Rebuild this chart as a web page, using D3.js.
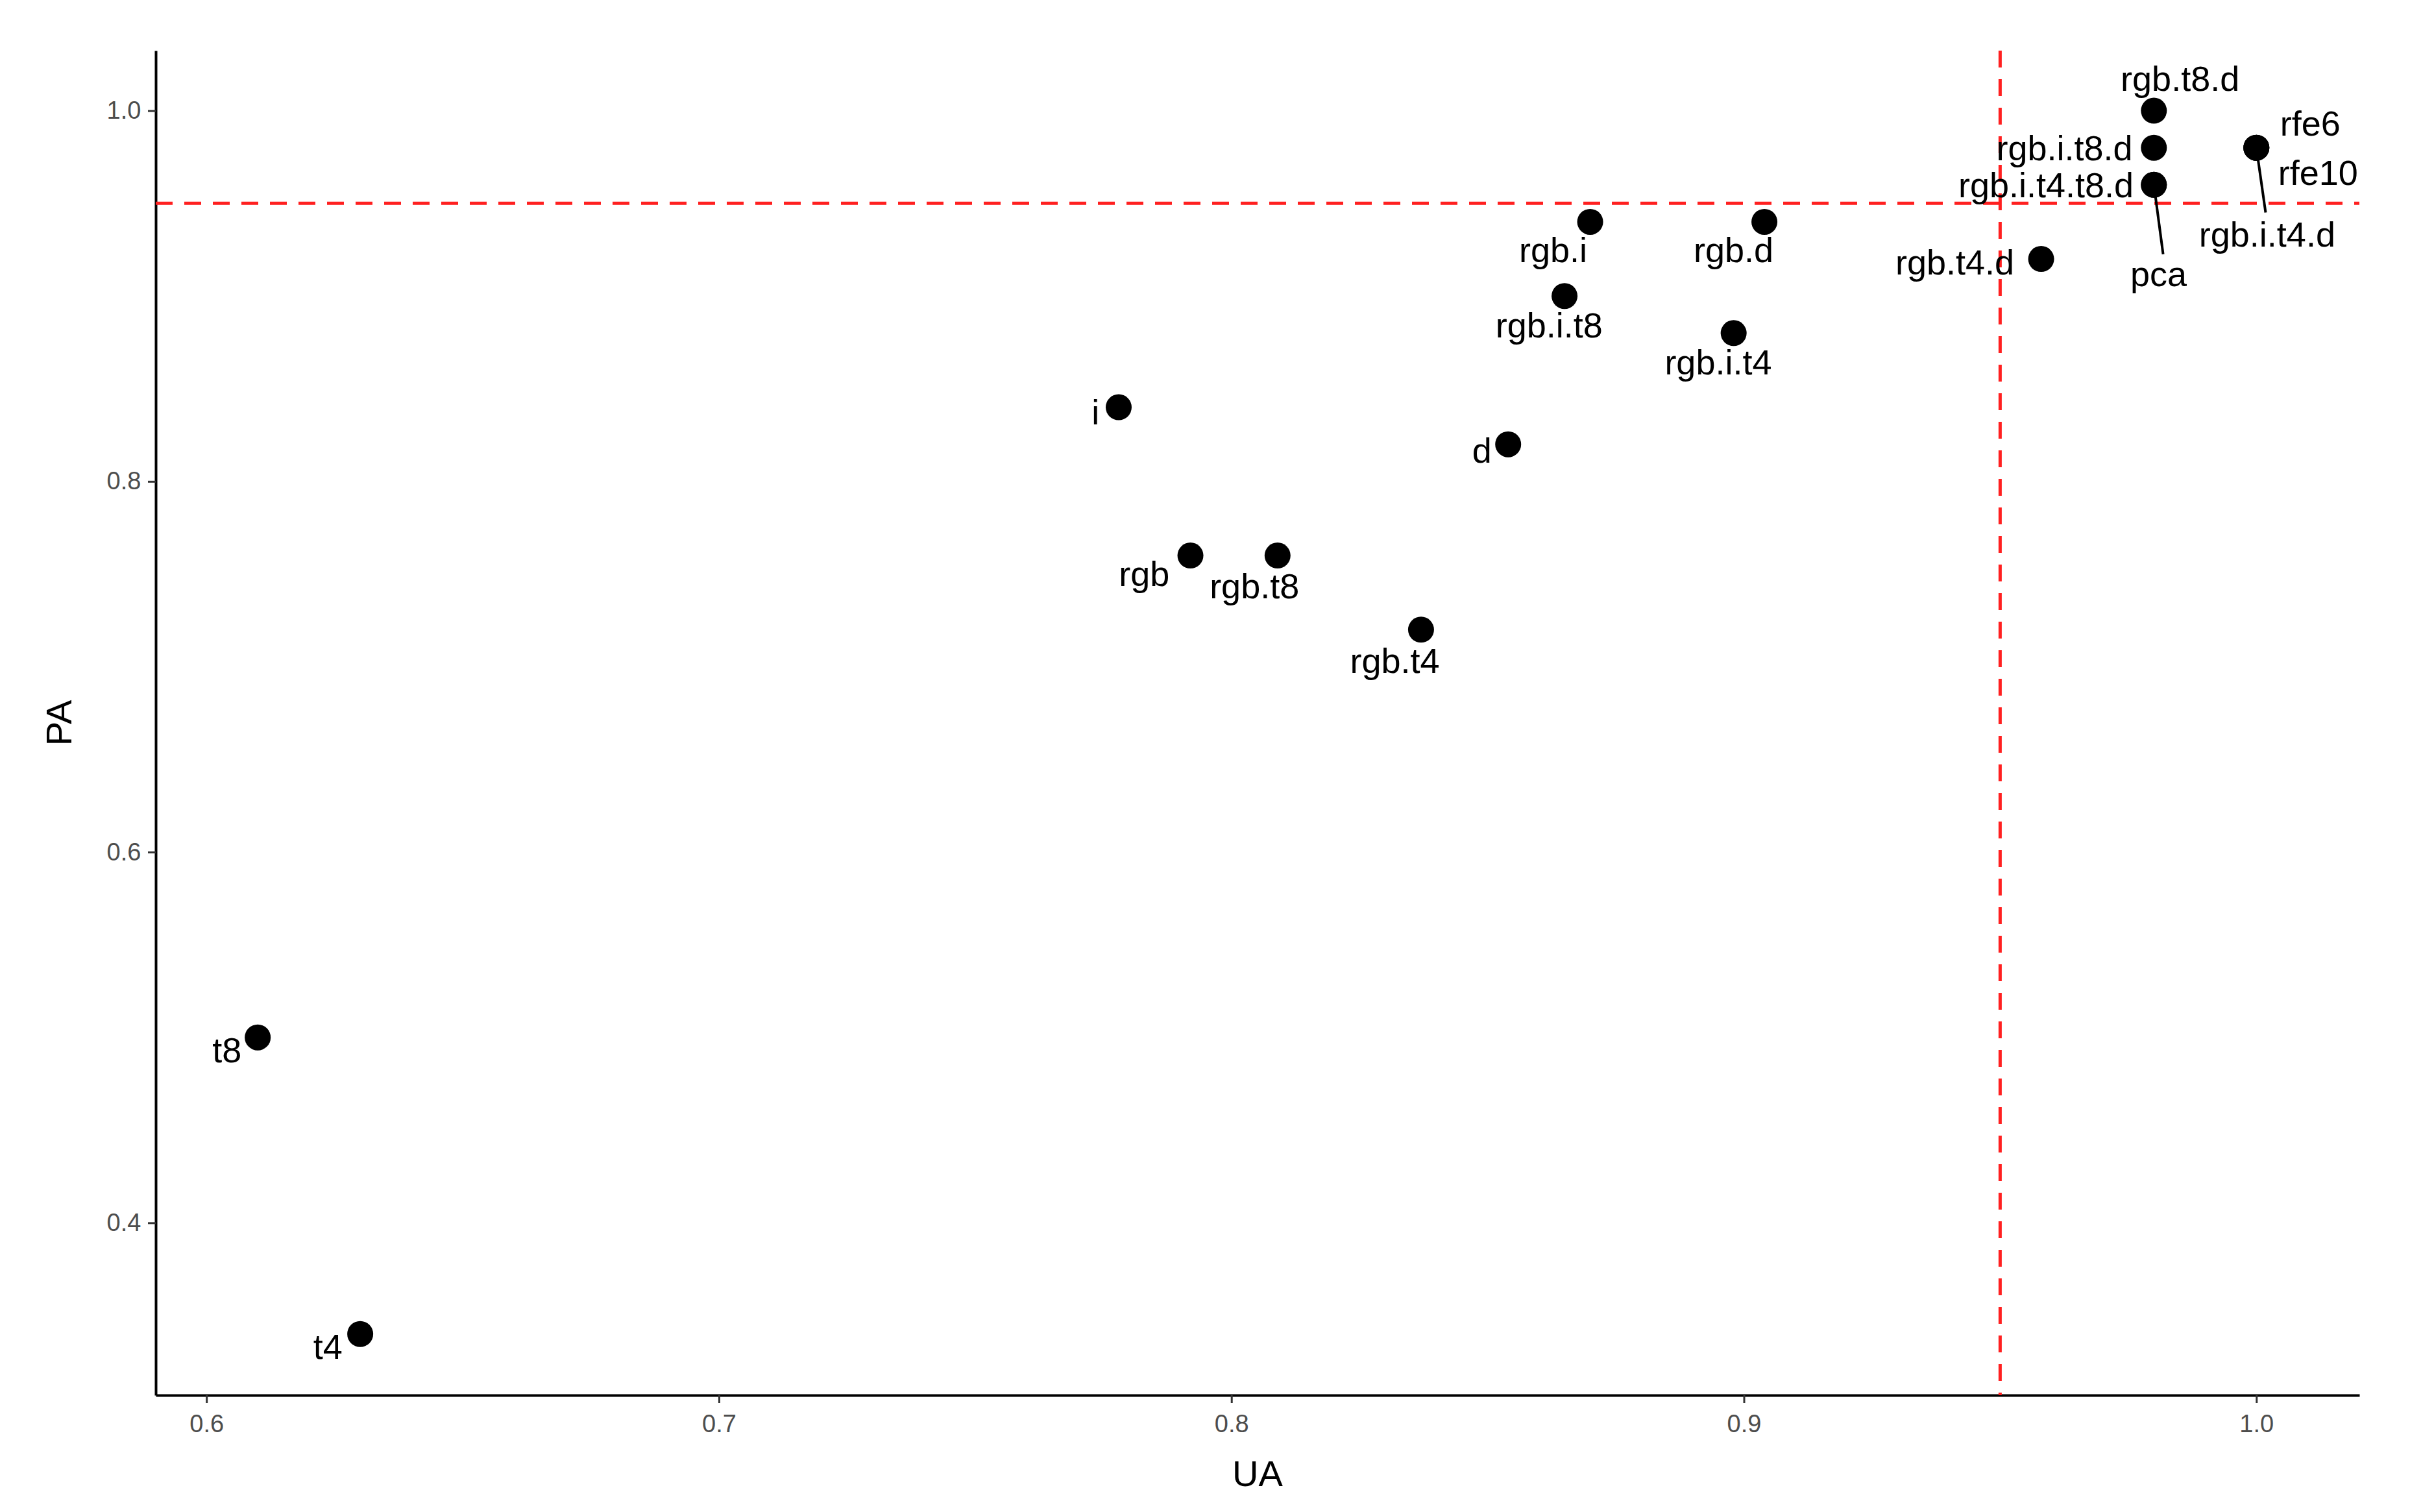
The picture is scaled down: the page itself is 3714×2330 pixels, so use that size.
<!DOCTYPE html>
<html><head><meta charset="utf-8">
<script src="https://cdn.jsdelivr.net/npm/d3@7"></script>
<style>body{margin:0;background:#fff}text{font-family:"Liberation Sans",Arial,sans-serif}</style>
</head><body>
<svg id="chart" width="3714" height="2330"></svg>
<script>
var names = ["t8","t4","i","rgb","rgb.t8","rgb.t4","d","rgb.i.t8","rgb.i","rgb.i.t4","rgb.d","rgb.t4.d","rgb.t8.d","rgb.i.t8.d","rgb.i.t4.t8.d","pca","rfe6","rfe10","rgb.i.t4.d"];
var ua = [0.61,0.63,0.778,0.792,0.809,0.837,0.854,0.865,0.870,0.898,0.904,0.958,0.98,0.98,0.98,0.98,1.0,1.0,1.0];
var pa = [0.50,0.34,0.84,0.76,0.76,0.72,0.82,0.90,0.94,0.88,0.94,0.92,1.0,0.98,0.96,0.96,0.98,0.98,0.98];
var xTicks = [0.6,0.7,0.8,0.9,1.0];
var yTicks = [0.4,0.6,0.8,1.0];
var threshold = 0.95;

// label nudges (screen px), repel-style
var k = 2.375;
var labelOffset = {
	"t8":[-20,8],"t4":[-21,8],"i":[-15,3],"rgb":[-30,12],"rgb.t8":[-15,20],"rgb.t4":[-17,20],
	"d":[-17,4],"rgb.i.t8":[-10,19],"rgb.i":[-24,18],"rgb.i.t4":[-10,19],"rgb.d":[-20,18],
	"rgb.t4.d":[-56,2],"rgb.t8.d":[17,-21],"rgb.i.t8.d":[-58,0],"rgb.i.t4.t8.d":[-70,0],
	"pca":[3,58],"rfe6":[35,-16],"rfe10":[40,16],"rgb.i.t4.d":[7,56]
};
var withSegment = {"pca":[6,45],"rgb.i.t4.d":[6,42]};

var svg = d3.select('#chart'),
	margin = {top: 78, right: 78, bottom: 180, left: 240},
	width = +svg.attr("width") - margin.left - margin.right,
	height = +svg.attr("height") - margin.top - margin.bottom;

var chart = svg.append("g")
	.attr("transform", "translate(" + margin.left + "," + margin.top + ")");

var x = d3.scaleLinear().domain([0.5901, 1.0201]).range([0, width]);
var y = d3.scaleLinear().domain([0.307, 1.0324]).range([height, 0]);

var xAxis = chart.append("g")
	.attr("transform", "translate(0," + height + ")")
	.call(d3.axisBottom(x).tickValues(xTicks).tickFormat(d3.format(".1f")).tickSize(12).tickSizeOuter(0));
var yAxis = chart.append("g")
	.call(d3.axisLeft(y).tickValues(yTicks).tickFormat(d3.format(".1f")).tickSize(12).tickSizeOuter(0));
[xAxis, yAxis].forEach(function(a) {
	a.select(".domain").attr("stroke", "#000").attr("stroke-width", 4);
	a.selectAll(".tick line").attr("stroke", "#333").attr("stroke-width", 3);
	a.selectAll(".tick text").attr("font-size", 38).attr("fill", "#4d4d4d");
});
xAxis.selectAll(".tick text").attr("dy", "1.1em");
yAxis.selectAll(".tick text").attr("dx", "-0.2em");

chart.append("line")
	.attr("x1", 0).attr("x2", width).attr("y1", y(threshold)).attr("y2", y(threshold))
	.attr("stroke", "#ff2020").attr("stroke-width", 5).attr("stroke-dasharray", "26,18");
chart.append("line")
	.attr("y1", 0).attr("y2", height).attr("x1", x(threshold)).attr("x2", x(threshold))
	.attr("stroke", "#ff2020").attr("stroke-width", 5).attr("stroke-dasharray", "26,18");

var data = names.map(function(n, i) { return {name: n, ua: ua[i], pa: pa[i]}; });

chart.selectAll("line.seg")
	.data(data.filter(function(d) { return withSegment[d.name]; }))
	.enter().append("line")
	.attr("class", "seg")
	.attr("x1", function(d) { return x(d.ua); })
	.attr("y1", function(d) { return y(d.pa); })
	.attr("x2", function(d) { return x(d.ua) + withSegment[d.name][0] * k; })
	.attr("y2", function(d) { return y(d.pa) + withSegment[d.name][1] * k; })
	.attr("stroke", "#000").attr("stroke-width", 4);

chart.selectAll("circle")
	.data(data)
	.enter().append("circle")
	.attr("cx", function(d) { return x(d.ua); })
	.attr("cy", function(d) { return y(d.pa); })
	.attr("r", 20)
	.attr("fill", "#000");

chart.selectAll("text.lab")
	.data(data)
	.enter().append("text")
	.attr("class", "lab")
	.attr("x", function(d) { return x(d.ua) + labelOffset[d.name][0] * k; })
	.attr("y", function(d) { return y(d.pa) + labelOffset[d.name][1] * k; })
	.attr("dy", "0.35em")
	.attr("text-anchor", "middle")
	.attr("font-size", 54)
	.attr("fill", "#000")
	.text(function(d) { return d.name; });

svg.append("text")
	.attr("x", margin.left + width / 2).attr("y", 2290)
	.attr("text-anchor", "middle").attr("font-size", 56).text("UA");
svg.append("text")
	.attr("transform", "translate(110," + (margin.top + height / 2) + ") rotate(-90)")
	.attr("text-anchor", "middle").attr("font-size", 56).text("PA");
</script>
</body></html>
